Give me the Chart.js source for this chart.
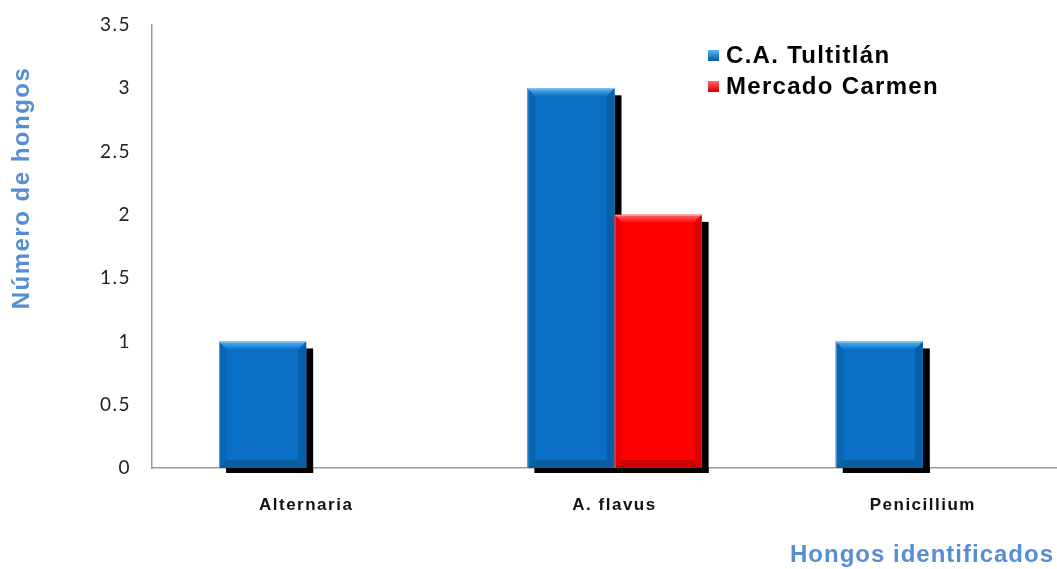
<!DOCTYPE html>
<html lang="es">
<head>
<meta charset="utf-8">
<title>Hongos identificados</title>
<script src="https://cdn.jsdelivr.net/npm/chart.js@4/dist/chart.umd.min.js"></script>
<style>
    html, body { margin: 0; padding: 0; background: #fff; overflow: hidden; }
    #wrap { position: relative; width: 1080px; height: 569px; }
</style>
</head>
<body>
<div id="wrap"><canvas id="hongosChart"></canvas></div>
<script>
// Hongos identificados por sitio de muestreo

const categories = ["Alternaria", "A. flavus", "Penicillium"];
const tultitlan = [1, 3, 1];
const mercadoCarmen = [null, 2, null];
const yTicks = [0, 0.5, 1, 1.5, 2, 2.5, 3, 3.5];

const titleBlue = "#558ED5";
const boldFont = "'Liberation Sans', Arial, sans-serif";

const palettes = {
    blue: { face: "#0A70C6", top: "#5DB6F2", left: "#0866B6", right: "#075FA8", bottom: "#0A5E9E" },
    red: { face: "#FF0000", top: "#FF6A6A", left: "#EA0000", right: "#DC0000", bottom: "#C80000" }
};

// wider letter spacing for the category labels, reset before the bars
const tickSpacing = {
    id: "tickSpacing",
    beforeDraw(chart) { chart.ctx.letterSpacing = "1.5px"; },
    beforeDatasetsDraw(chart) { chart.ctx.letterSpacing = "0px"; }
};

// black drop shadow behind each bar
const barShadow = {
    id: "barShadow",
    beforeDatasetsDraw(chart) {
        const ctx = chart.ctx;
        ctx.save();
        ctx.fillStyle = "#000";
        chart.data.datasets.forEach((ds, i) => {
            chart.getDatasetMeta(i).data.forEach((bar, j) => {
                if (ds.data[j] == null) return;
                const left = bar.x - bar.width / 2;
                const right = bar.x + bar.width / 2;
                ctx.fillRect(right, bar.y + 7, 7, bar.base - bar.y - 2);
                ctx.fillRect(left + 7, bar.base, bar.width, 5);
            });
        });
        ctx.restore();
    }
};

// bevelled edges drawn over the bar faces
const barBevel = {
    id: "barBevel",
    afterDatasetsDraw(chart) {
        const ctx = chart.ctx;
        const b = 8;
        chart.data.datasets.forEach((ds, i) => {
            const pal = palettes[ds.palette];
            chart.getDatasetMeta(i).data.forEach((bar, j) => {
                if (ds.data[j] == null) return;
                const l = bar.x - bar.width / 2;
                const r = bar.x + bar.width / 2;
                const t = bar.y;
                const btm = bar.base;
                const poly = (pts, color) => {
                    ctx.beginPath();
                    ctx.moveTo(pts[0][0], pts[0][1]);
                    pts.slice(1).forEach(p => ctx.lineTo(p[0], p[1]));
                    ctx.closePath();
                    ctx.fillStyle = color;
                    ctx.fill();
                };
                ctx.save();
                poly([[l, btm], [l + b, btm - b], [r - b, btm - b], [r, btm]], pal.bottom);
                poly([[l, t], [l + b, t + b], [l + b, btm - b], [l, btm]], pal.left);
                poly([[r, t], [r - b, t + b], [r - b, btm - b], [r, btm]], pal.right);
                const g = ctx.createLinearGradient(0, t, 0, t + b);
                g.addColorStop(0, pal.top);
                g.addColorStop(1, pal.face);
                poly([[l, t], [r, t], [r - b, t + b], [l + b, t + b]], g);
                ctx.strokeStyle = "rgba(255,255,255,0.35)";
                ctx.lineWidth = 1;
                ctx.beginPath();
                ctx.moveTo(l + 0.5, btm);
                ctx.lineTo(l + 0.5, t + 0.5);
                ctx.lineTo(r - 0.5, t + 0.5);
                ctx.stroke();
                ctx.restore();
            });
        });
    }
};

// axis titles and legend
const chartText = {
    id: "chartText",
    afterDraw(chart) {
        const ctx = chart.ctx;
        ctx.save();
        ctx.fillStyle = titleBlue;
        ctx.font = "bold 24px " + boldFont;
        ctx.letterSpacing = "1px";
        ctx.textAlign = "right";
        ctx.textBaseline = "middle";
        ctx.fillText("Hongos identificados", 1054, 555);

        ctx.letterSpacing = "1.5px";
        ctx.translate(22, 188);
        ctx.rotate(-Math.PI / 2);
        ctx.textAlign = "center";
        ctx.fillText("Número de hongos", 0, 0);
        ctx.restore();

        ctx.save();
        ctx.font = "bold 24px " + boldFont;
        ctx.letterSpacing = "1.3px";
        ctx.textAlign = "left";
        ctx.textBaseline = "middle";
        chart.data.datasets.forEach((ds, i) => {
            const pal = palettes[ds.palette];
            const y = 55 + i * 31;
            const g = ctx.createLinearGradient(0, y - 5, 0, y + 5);
            g.addColorStop(0, pal.top);
            g.addColorStop(1, pal.right);
            ctx.fillStyle = g;
            ctx.fillRect(708, y - 5, 11, 11);
            ctx.fillStyle = "#000";
            ctx.fillText(ds.label, 726, y + 1);
        });
        ctx.restore();
    }
};

new Chart(document.getElementById("hongosChart"), {
    type: "bar",
    data: {
        labels: categories,
        datasets: [
            {
                label: "C.A. Tultitlán",
                data: tultitlan,
                palette: "blue",
                backgroundColor: palettes.blue.face,
                barPercentage: 1,
                categoryPercentage: 0.565
            },
            {
                label: "Mercado Carmen",
                data: mercadoCarmen,
                palette: "red",
                backgroundColor: palettes.red.face,
                barPercentage: 1,
                categoryPercentage: 0.565
            }
        ]
    },
    options: {
        responsive: true,
        maintainAspectRatio: false,
        animation: false,
        layout: { padding: { top: 25, right: 3, left: 0, bottom: 0 } },
        plugins: {
            legend: { display: false },
            tooltip: { enabled: false }
        },
        scales: {
            x: {
                grid: { display: false, drawTicks: false },
                border: { color: "#9a9a9a", width: 1.5 },
                ticks: {
                    color: "#111",
                    padding: 27,
                    font: { family: boldFont, size: 17, weight: "bold" }
                },
                afterFit(scale) { scale.height = 101; }
            },
            y: {
                min: 0,
                max: 3.5,
                afterBuildTicks(scale) { scale.ticks = yTicks.map(v => ({ value: v })); },
                grid: { display: false, drawTicks: false },
                border: { color: "#9a9a9a", width: 1.5 },
                ticks: {
                    color: "#222",
                    padding: 21,
                    font: { family: "Lato, 'Open Sans', sans-serif", size: 19 },
                    callback: v => String(v)
                },
                afterFit(scale) {
                    scale.width = 152;
                    scale.paddingTop = 0;
                    scale.paddingBottom = 0;
                }
            }
        }
    },
    plugins: [tickSpacing, barShadow, barBevel, chartText]
});
</script>
</body>
</html>
